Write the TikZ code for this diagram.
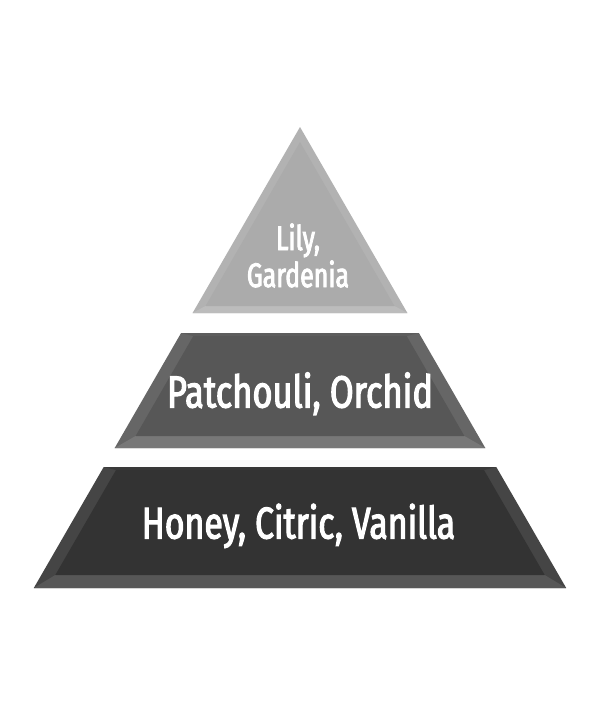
\documentclass[tikz,border=0pt]{standalone}
\usepackage{fontspec}
\setmainfont{Fira Sans}
\newfontfamily\labfontA[FakeStretch=0.735,FakeBold=2.5]{Fira Sans}
\newfontfamily\labfontB[FakeStretch=0.766,FakeBold=2.5]{Fira Sans}
\newfontfamily\labfontC[FakeStretch=0.76,FakeBold=2.5]{Fira Sans}
\definecolor{botmain}{HTML}{333333}
\definecolor{botside}{HTML}{454545}
\definecolor{botlow}{HTML}{575757}
\definecolor{bottop}{HTML}{3A3A3A}
\definecolor{midmain}{HTML}{575757}
\definecolor{midside}{HTML}{666666}
\definecolor{midlow}{HTML}{787878}
\definecolor{midtop}{HTML}{5D5D5D}
\definecolor{topmain}{HTML}{ABABAB}
\definecolor{topside}{HTML}{B2B2B2}
\definecolor{toplow}{HTML}{BCBCBC}
\tikzset{
  lab/.style={text=white, anchor=base, inner sep=0pt},
}
\begin{document}
\begin{tikzpicture}[x=1pt,y=-1pt]
\useasboundingbox (0,0) rectangle (600,726);
\fill[white] (0,0) rectangle (600,726);
% ---- top triangle ----
\coordinate (ta) at (300,127);
\coordinate (tl) at (192.6,313);
\coordinate (tr) at (407.4,313);
\coordinate (ia) at (300,142);
\coordinate (il) at (205.5,306);
\coordinate (ir) at (394.5,306);
\fill[topside] (ta) -- (tr) -- (tl) -- cycle;
\fill[toplow] (il) -- (ir) -- (tr) -- (tl) -- cycle;
\fill[topmain] (ia) -- (ir) -- (il) -- cycle;
% ---- middle trapezoid ----
\coordinate (m1) at (181.1,333);
\coordinate (m2) at (418.9,333);
\coordinate (m3) at (485.3,448);
\coordinate (m4) at (114.7,448);
\coordinate (n1) at (193.3,336);
\coordinate (n2) at (406.7,336);
\coordinate (n3) at (464.4,436);
\coordinate (n4) at (135.6,436);
\fill[midside] (m1) -- (m2) -- (m3) -- (m4) -- cycle;
\fill[midtop] (m1) -- (m2) -- (n2) -- (n1) -- cycle;
\fill[midlow] (m4) -- (m3) -- (n3) -- (n4) -- cycle;
\fill[midmain] (n1) -- (n2) -- (n3) -- (n4) -- cycle;
% ---- bottom trapezoid ----
\coordinate (b1) at (103.7,467);
\coordinate (b2) at (496.3,467);
\coordinate (b3) at (566.2,588);
\coordinate (b4) at (33.8,588);
\coordinate (c1) at (116,470);
\coordinate (c2) at (484,470);
\coordinate (c3) at (544.7,575);
\coordinate (c4) at (55.3,575);
\fill[botside] (b1) -- (b2) -- (b3) -- (b4) -- cycle;
\fill[bottop] (b1) -- (b2) -- (c2) -- (c1) -- cycle;
\fill[botlow] (b4) -- (b3) -- (c3) -- (c4) -- cycle;
\fill[botmain] (c1) -- (c2) -- (c3) -- (c4) -- cycle;
% ---- labels ----
\node[lab, font=\labfontA\fontsize{34}{38}\selectfont] (ttext1) at (298,250) {Lily,};
\node[lab, font=\labfontA\fontsize{34}{38}\selectfont] (ttext2) at (298,287) {Gardenia};
\node[lab, font=\labfontB\fontsize{45}{50}\selectfont] (mtext) at (300,407.5) {Patchouli, Orchid};
\node[lab, font=\labfontC\fontsize{44.5}{50}\selectfont] (btext) at (298.5,538.5) {Honey, Citric, Vanilla};
\end{tikzpicture}
\end{document}
